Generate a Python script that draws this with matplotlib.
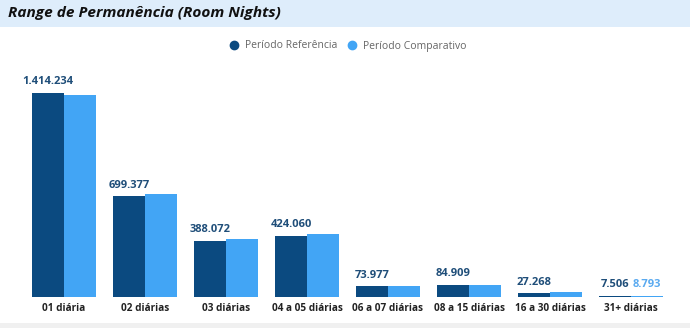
import numpy as np
import matplotlib.pyplot as plt
from matplotlib.patches import Rectangle
from matplotlib.lines import Line2D

plt.rcParams['font.family'] = ['Open Sans', 'DejaVu Sans']

categories = ['01 diária', '02 diárias', '03 diárias', '04 a 05 diárias',
              '06 a 07 diárias', '08 a 15 diárias', '16 a 30 diárias', '31+ diárias']
referencia = [1414234, 699377, 388072, 424060, 73977, 84909, 27268, 7506]
comparativo = [1400000, 714000, 402000, 437000, 75000, 86000, 34000, 8793]
# Power BI only shows the comparativo label where it does not collide
comparativo_labels = [None, None, None, None, None, None, None, '8.793']

dark = '#0b4a80'
light = '#42a5f5'


def fmt(v):
    return f'{v:,}'.replace(',', '.')


fig = plt.figure(figsize=(6.9, 3.28), dpi=100)

# title band and bottom strip
fig.patches.append(Rectangle((0, 1 - 27 / 328), 1, 27 / 328, transform=fig.transFigure,
                             facecolor='#deedfb', edgecolor='none', zorder=0))
fig.patches.append(Rectangle((0, 0), 1, 5 / 328, transform=fig.transFigure,
                             facecolor='#f0f0f0', edgecolor='none', zorder=0))
fig.text(8 / 690, 1 - 13 / 328, 'Range de Permanência (Room Nights)', fontsize=11.1,
         fontweight='bold', fontstyle='italic', va='center', ha='left', color='#111111')

ax = fig.add_axes([23.5 / 690, 31 / 328, 648 / 690, 237 / 328])
x = np.arange(len(categories))
w = 0.39
ax.bar(x - w / 2, referencia, w, color=dark, linewidth=0)
ax.bar(x + w / 2, comparativo, w, color=light, linewidth=0)
ax.set_xlim(-0.5, len(categories) - 0.5)
ax.set_ylim(0, 1414234 * 237 / 204)

for i, v in enumerate(referencia):
    ax.annotate(fmt(v), (x[i] - w / 2, v), xytext=(0, 4), textcoords='offset points',
                ha='center', va='bottom', fontsize=8, fontweight='bold', color='#1f4e79')
for i, lab in enumerate(comparativo_labels):
    if lab:
        ax.annotate(lab, (x[i] + w / 2, comparativo[i]), xytext=(0, 4), textcoords='offset points',
                    ha='center', va='bottom', fontsize=8, fontweight='bold', color='#5aaaf0')

ax.set_xticks(x)
ax.set_xticklabels(categories, fontsize=7.2, fontweight='bold', color='#222222')
ax.tick_params(axis='x', length=0, pad=4.5)
ax.set_yticks([])
for s in ax.spines.values():
    s.set_visible(False)

handles = [Line2D([], [], marker='o', linestyle='', color=dark, markersize=6),
           Line2D([], [], marker='o', linestyle='', color=light, markersize=6)]
fig.legend(handles, ['Período Referência', 'Período Comparativo'], loc='center',
           bbox_to_anchor=(0.5, 1 - 46 / 328), ncol=2, frameon=False, fontsize=7.5,
           handletextpad=0.05, columnspacing=0.4, labelcolor='#666666')

fig.savefig('out.png', dpi=100)
